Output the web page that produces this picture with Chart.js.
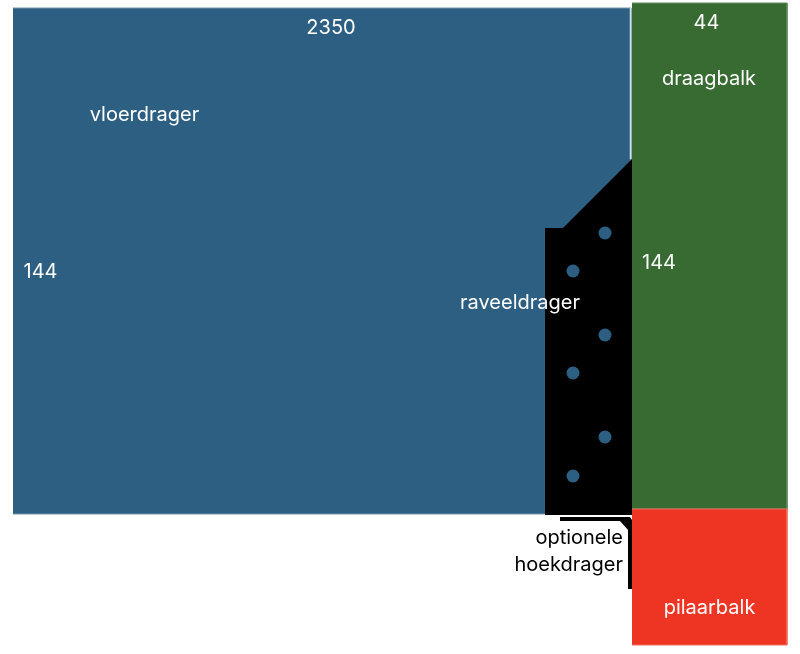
<!DOCTYPE html>
<html>
<head>
<meta charset="utf-8">
<title>vloerdrager</title>
<script src="https://cdn.jsdelivr.net/npm/chart.js@4"></script>
<style>
    html, body { margin: 0; padding: 0; background: #ffffff; }
    #wrap { width: 800px; height: 654px; }
</style>
</head>
<body>
<div id="wrap"><canvas id="detailChart" width="800" height="654"></canvas></div>
<script>
// Shapes, in picture units
const vloerdragerX = [13, 631, 631, 13];
const vloerdragerY = [8, 8, 514, 514];
const draagbalkX = [632, 787, 787, 632];
const draagbalkY = [3, 3, 509, 509];
const pilaarbalkX = [632, 787, 787, 632];
const pilaarbalkY = [509, 509, 645, 645];
const raveelX = [545, 563, 632, 632, 545];
const raveelY = [228, 228, 159, 515, 515];
const hoekX = [560, 630, 632, 632, 628, 628, 620, 560];
const hoekY = [517, 517, 520, 589, 589, 530, 521, 521];
const naadX = [630.5, 630.5];
const naadY = [8, 159];

// Bolts
const boutX = [605, 573, 605, 573, 605, 573];
const boutY = [233, 271, 335, 373, 437, 476];

// Texts
const whiteLabels = ['2350', 'vloerdrager', '144', '44', 'draagbalk', '144', 'raveeldrager', 'pilaarbalk'];
const whiteLabelX = [331, 144.5, 40.5, 706.5, 709, 659, 520, 709.5];
const whiteLabelY = [28, 115, 272, 23, 79, 263, 303, 608];
const blackLabels = ['optionele', 'hoekdrager'];
const blackLabelX = [623, 623];
const blackLabelY = [538, 565];

function points(xs, ys) {
    return xs.map(function(x, i) {
        return { x: x, y: ys[i] };
    });
}

function shape(xs, ys, color, edge, order) {
    return {
        data: points(xs, ys),
        showLine: true,
        fill: 'shape',
        tension: 0,
        backgroundColor: color,
        borderColor: edge,
        borderWidth: edge === color ? 0 : 1,
        pointRadius: 0,
        order: order
    };
}

// Draw the texts on top of the shapes
const textPlugin = {
    id: 'diagramText',
    afterDatasetsDraw: function(chart) {
        const ctx = chart.ctx;
        const xScale = chart.scales.x;
        const yScale = chart.scales.y;
        ctx.save();
        ctx.font = '20px Inter';
        ctx.textBaseline = 'middle';
        ctx.textAlign = 'center';
        ctx.fillStyle = '#ffffff';
        whiteLabels.forEach(function(label, i) {
            ctx.fillText(label, xScale.getPixelForValue(whiteLabelX[i]), yScale.getPixelForValue(whiteLabelY[i]));
        });
        ctx.textAlign = 'right';
        ctx.fillStyle = '#000000';
        blackLabels.forEach(function(label, i) {
            ctx.fillText(label, xScale.getPixelForValue(blackLabelX[i]), yScale.getPixelForValue(blackLabelY[i]));
        });
        ctx.restore();
    }
};

new Chart(document.getElementById('detailChart'), {
    type: 'scatter',
    data: {
        datasets: [
            shape(vloerdragerX, vloerdragerY, '#2d5f82', '#6f95ac', 6),
            shape(draagbalkX, draagbalkY, '#376b32', '#5f8a5b', 5),
            shape(pilaarbalkX, pilaarbalkY, '#ee3524', '#f2705f', 4),
            shape(raveelX, raveelY, '#000000', '#000000', 3),
            shape(hoekX, hoekY, '#000000', '#000000', 3),
            {
                data: points(naadX, naadY),
                showLine: true,
                borderColor: '#d5e0e6',
                borderWidth: 1.5,
                pointRadius: 0,
                order: 2
            },
            {
                data: points(boutX, boutY),
                showLine: false,
                pointRadius: 6.5,
                pointBorderWidth: 0,
                pointBackgroundColor: '#2d5f82',
                order: 1
            }
        ]
    },
    options: {
        responsive: false,
        animation: false,
        layout: { padding: 0, autoPadding: false },
        plugins: {
            legend: { display: false },
            title: { display: false },
            tooltip: { enabled: false }
        },
        scales: {
            x: { type: 'linear', min: 0, max: 800, display: false },
            y: { type: 'linear', min: 0, max: 654, reverse: true, display: false }
        }
    },
    plugins: [textPlugin]
});
</script>
</body>
</html>
